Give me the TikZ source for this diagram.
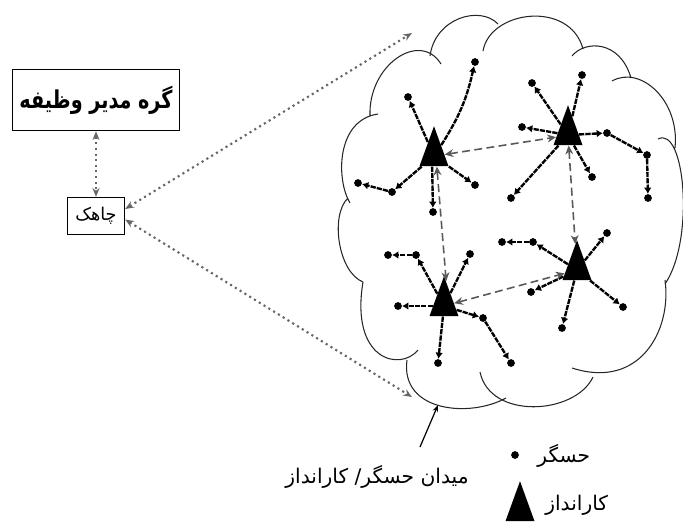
\documentclass[tikz,border=0pt]{standalone}
\usepackage{fontspec}
\usetikzlibrary{shapes.geometric,arrows.meta}
\newfontfamily\arabicfont[Script=Arabic]{DejaVu Sans}
\TeXXeTstate=1
\newcommand{\fatext}[1]{\arabicfont\beginR #1\endR}

\begin{document}
\begin{tikzpicture}[x=0.02cm,y=-0.02cm,
		actuator/.style={isosceles triangle, isosceles triangle apex angle=40, isosceles triangle stretches=true, shape border rotate=90, fill=black, minimum width=0.58cm, minimum height=0.8cm},
		sensor/.style={circle, fill=black, minimum size=4.4pt},
		link/.style={line width=1.35pt, dash pattern=on 3pt off 0.6pt, -{Latex[length=3.5pt,width=4.4pt]}},
		actlink/.style={draw=black!65, line width=0.9pt, dash pattern=on 4.5pt off 2.5pt, {Stealth[length=5pt,width=4.5pt]}-{Stealth[length=5pt,width=4.5pt]}},
		sinklink/.style={draw=black!60, line width=1.2pt, dotted, {Stealth[length=5pt,width=4pt]}-{Stealth[length=5pt,width=4pt]}},
		cloudline/.style={draw=black!85, line width=0.6pt}]
		\tikzstyle{every node}+=[inner sep=0pt]
		\useasboundingbox (0,0) rectangle (683,525);
		\node [draw, line width=0.9pt, minimum width=3.34cm, minimum height=1.22cm] (manager) at (96,100) {\scalebox{0.78}[1]{\fontsize{14}{16}\selectfont\bfseries\fatext{گره مدیر وظیفه}}};
		\node [draw, line width=0.8pt, minimum width=1.14cm, minimum height=0.74cm] (sink) at (96,216) {\fontsize{10}{12}\selectfont\fatext{چاهک}};
		\draw [sinklink] (manager) -- (sink);
		\draw [cloudline] (363,282) .. controls (338,272) and (330,215) .. (348,198)
			(350,203) .. controls (336,180) and (336,120) .. (378,114)
			(370,116) .. controls (368,65) and (420,30) .. (441,64)
			(430,56) .. controls (435,18) and (480,5) .. (498,24)
			(483,51) .. controls (490,10) and (570,0) .. (583,49)
			(572,56) .. controls (585,40) and (620,40) .. (631,78)
			(612,81) .. controls (640,65) and (680,100) .. (675,148)
			(658,139) .. controls (685,125) and (695,240) .. (665,284)
			(665,280) .. controls (672,330) and (640,390) .. (572,368)
			(593,377) .. controls (575,415) and (490,420) .. (480,372)
			(506,398) .. controls (470,418) and (400,412) .. (407,360)
			(418,350) .. controls (400,372) and (350,360) .. (363,282);
		\coordinate (cloudtop) at (412,33);
		\coordinate (cloudbot) at (412,397);
		\draw [sinklink] ([yshift=4pt]sink.east) -- (cloudtop);
		\draw [sinklink] ([yshift=-2pt]sink.east) -- (cloudbot);
		\node [actuator] (a1) at (434,156) {};
		\node [actuator] (a2) at (568,135) {};
		\node [actuator] (a3) at (444,306) {};
		\node [actuator] (a4) at (577,270) {};
		\node [sensor] (s11) at (408,97) {};
		\node [sensor] (s12) at (475,62) {};
		\node [sensor] (s13) at (358,183) {};
		\node [sensor] (s14) at (392,192) {};
		\node [sensor] (s15) at (433,212) {};
		\node [sensor] (s16) at (475,185) {};
		\node [sensor] (s21) at (532,83) {};
		\node [sensor] (s22) at (582,75) {};
		\node [sensor] (s23) at (522,127) {};
		\node [sensor] (s24) at (511,198) {};
		\node [sensor] (s25) at (592,177) {};
		\node [sensor] (s26) at (607,133) {};
		\node [sensor] (s27) at (647,155) {};
		\node [sensor] (s28) at (648,198) {};
		\node [sensor] (s31) at (388,255) {};
		\node [sensor] (s32) at (416,255) {};
		\node [sensor] (s33) at (470,254) {};
		\node [sensor] (s34) at (398,306) {};
		\node [sensor] (s35) at (438,363) {};
		\node [sensor] (s36) at (483,318) {};
		\node [sensor] (s37) at (511,363) {};
		\node [sensor] (s41) at (502,242) {};
		\node [sensor] (s42) at (533,242) {};
		\node [sensor] (s43) at (607,233) {};
		\node [sensor] (s44) at (531,292) {};
		\node [sensor] (s45) at (562,328) {};
		\node [sensor] (s46) at (623,307) {};
		\draw [link] (a1) -- (s11);
		\draw [link] (a1) to[bend right=10] (s12);
		\draw [link] (a1) -- (s14);
		\draw [link] (s14) -- (s13);
		\draw [link] (a1.-100) -- (s15);
		\draw [link] (a1) -- (s16);
		\draw [link] (a2) -- (s21);
		\draw [link] (a2) -- (s22);
		\draw [link] (a2) -- (s23);
		\draw [link] (a2) -- (s24);
		\draw [link] (a2) -- (s25);
		\draw [link] (a2) -- (s26);
		\draw [link] (s26) -- (s27);
		\draw [link] (s27) -- (s28);
		\draw [link] (a3) -- (s32);
		\draw [link] (s32) -- (s31);
		\draw [link] (a3) -- (s33);
		\draw [link] (a3) -- (s34);
		\draw [link] (a3) -- (s35);
		\draw [link] (a3) -- (s36);
		\draw [link] (s36) -- (s37);
		\draw [link] (a4) -- (s42);
		\draw [link] (s42) -- (s41);
		\draw [link] (a4) -- (s43);
		\draw [link] (a4) -- (s44);
		\draw [link] (a4) -- (s45);
		\draw [link] (a4) -- (s46);
		\draw [actlink] (a1.8) -- (a2.190);
		\draw [actlink] (a1.-75) -- (a3.85);
		\draw [actlink] (a2) -- (a4);
		\draw [actlink] (a3) -- (a4);
		\coordinate (fieldfoot) at (420,447);
		\coordinate (fieldtip) at (438,405);
		\draw [line width=0.7pt, -{Stealth[length=4pt,width=3pt]}] (fieldfoot) -- (fieldtip);
		\node (fieldlabel) at (377,477) {\fontsize{11.5}{13}\selectfont\fatext{میدان حسگر\hbox{/} کارانداز}};
		\node [sensor] (legdot) at (515,455) {};
		\node [anchor=west] (legsensor) at (537,456) {\fontsize{11.5}{13}\selectfont\fatext{حسگر}};
		\node [actuator] (legact) at (520,511) {};
		\node [anchor=west] (legacttext) at (545,505) {\fontsize{11.5}{13}\selectfont\fatext{کارانداز}};
	\end{tikzpicture}
\end{document}
